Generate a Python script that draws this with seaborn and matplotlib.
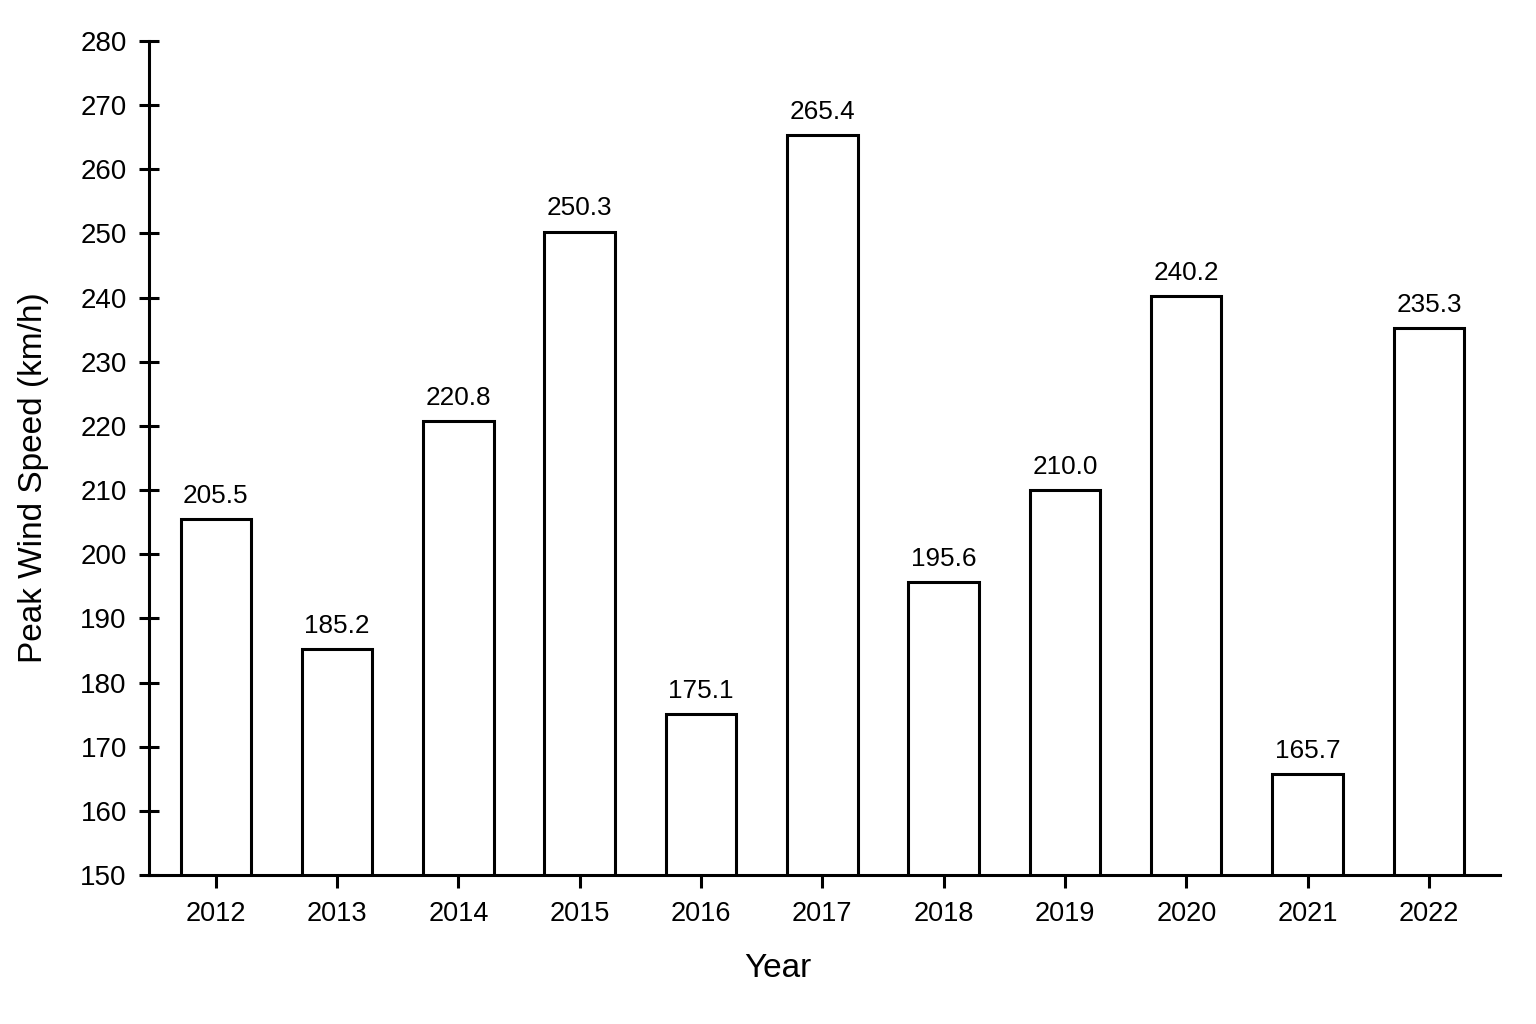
import matplotlib

matplotlib.use("Agg")
import matplotlib.pyplot as plt
import pandas as pd
import seaborn as sns

years = ["2012", "2013", "2014", "2015", "2016", "2017", "2018", "2019", "2020", "2021", "2022"]
peak_speed = [205.5, 185.2, 220.8, 250.3, 175.1, 265.4, 195.6, 210.0, 240.2, 165.7, 235.3]
y_ticks = list(range(150, 281, 10))

df = pd.DataFrame({"Year": years, "Speed": peak_speed})

sns.set_theme(style="ticks")
plt.rcParams["font.family"] = ["Liberation Sans", "DejaVu Sans"]
plt.rcParams.update({
    "text.color": "black",
    "axes.labelcolor": "black",
    "axes.edgecolor": "black",
    "xtick.color": "black",
    "ytick.color": "black",
})

fig = plt.figure(figsize=(15.36, 10.24), dpi=100)
ax = fig.add_axes([0.097, 0.1455, 0.8795, 0.8145])

sns.barplot(data=df, x="Year", y="Speed", ax=ax, color="white",
            edgecolor="black", linewidth=2.2, width=0.58, saturation=1)

ax.set_ylim(150, 280)
ax.set_xlim(-0.55, 10.585)
ax.set_yticks(y_ticks)
ax.tick_params(axis="y", direction="inout", length=14, width=2.2, labelsize=20, pad=9)
ax.tick_params(axis="x", direction="out", length=9, width=2.2, labelsize=19.5, pad=10)
for side in ["top", "right"]:
    ax.spines[side].set_visible(False)
for side in ["left", "bottom"]:
    ax.spines[side].set_linewidth(2.2)

for c in ax.containers:
    ax.bar_label(c, labels=[f"{v:.1f}" for v in peak_speed], padding=8, fontsize=18.8)

ax.set_xlabel("Year", fontsize=24)
ax.set_ylabel("Peak Wind Speed (km/h)", fontsize=24)
ax.xaxis.set_label_coords(0.4656, -0.094)
ax.yaxis.set_label_coords(-0.074, 0.476)

fig.savefig("out.png", dpi=100, facecolor="white")
